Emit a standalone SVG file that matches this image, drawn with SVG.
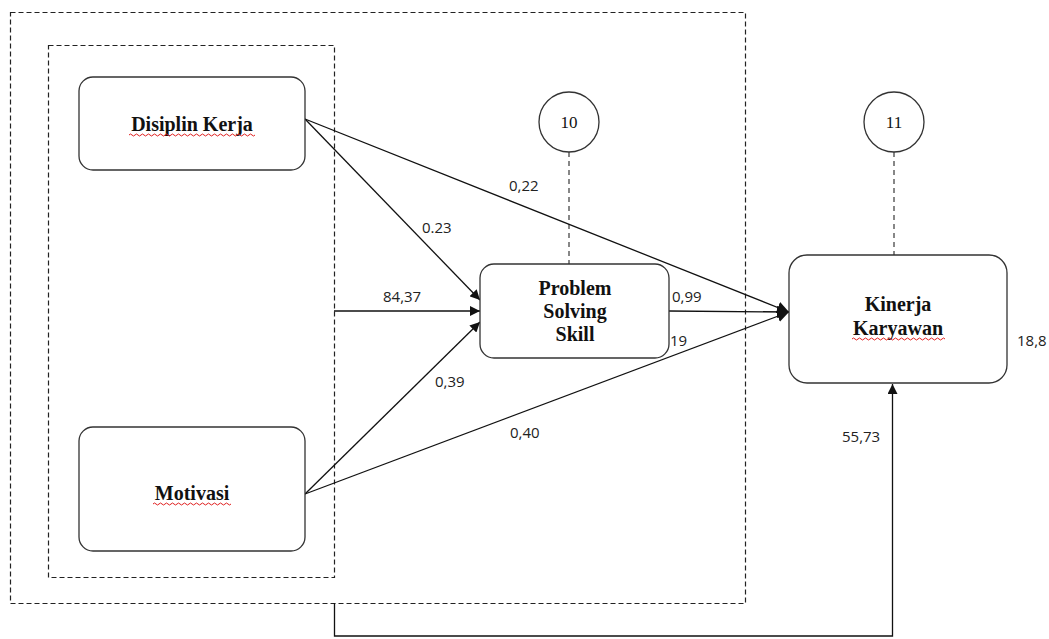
<svg xmlns="http://www.w3.org/2000/svg" width="1049" height="639" viewBox="0 0 1049 639">
<style>
.box{fill:#fff;stroke:#333;stroke-width:1.3}
.dash{fill:none;stroke:#222;stroke-width:1.2;stroke-dasharray:5,3}
.gdash{fill:none;stroke:#555;stroke-width:1.4;stroke-dasharray:5,4}
.line{fill:none;stroke:#111;stroke-width:1.3}
.lbl{font-family:"Liberation Serif","Times New Roman",serif;font-weight:bold;font-size:20px;fill:#111;text-anchor:middle}
.num{font-family:"Open Sans","Liberation Sans",sans-serif;font-size:15px;fill:#222}
.circ{font-family:"Liberation Serif","Times New Roman",serif;font-size:17px;fill:#111;text-anchor:middle}
.squig{fill:none;stroke:#e02020;stroke-width:1}
</style>
<defs>
<marker id="ah" viewBox="0 0 10 10" refX="10" refY="5" markerWidth="10" markerHeight="10" markerUnits="userSpaceOnUse" orient="auto">
<path d="M0,0 L10,5 L0,10 z" fill="#111"/>
</marker>
<marker id="ah2" viewBox="0 0 10 10" refX="10" refY="5" markerWidth="12" markerHeight="12" markerUnits="userSpaceOnUse" orient="auto">
<path d="M0,0 L10,5 L0,10 z" fill="#111"/>
</marker>
</defs>

<g id="frames">
<rect class="dash" x="10.5" y="12.5" width="735" height="591"/>
<rect class="dash" x="48.5" y="45.5" width="286" height="532"/>
</g>

<g id="connectors">
<line class="gdash" x1="569" y1="152" x2="569" y2="264"/>
<line class="gdash" x1="894" y1="152" x2="894" y2="255"/>
<line class="line" x1="305" y1="119" x2="480" y2="300" marker-end="url(#ah)"/>
<line class="line" x1="334" y1="311" x2="480" y2="311" marker-end="url(#ah)"/>
<line class="line" x1="305" y1="494" x2="480" y2="322" marker-end="url(#ah)"/>
<line class="line" x1="305" y1="119" x2="789" y2="312" marker-end="url(#ah2)"/>
<line class="line" x1="669" y1="311" x2="789" y2="312" marker-end="url(#ah2)"/>
<line class="line" x1="305" y1="494" x2="789" y2="312" marker-end="url(#ah2)"/>
<polyline class="line" points="334.5,603 334.5,636 892.5,636 892.5,384" marker-end="url(#ah)"/>
<text class="num" x="509" y="191">0,22</text>
<text class="num" x="422" y="233">0.23</text>
<text class="num" x="383" y="302">84,37</text>
<text class="num" x="435" y="387">0,39</text>
<text class="num" x="510" y="438">0,40</text>
<text class="num" x="672" y="302">0,99</text>
<text class="num" x="670" y="346">19</text>
<text class="num" x="1017" y="346">18,8</text>
<text class="num" x="842" y="442">55,73</text>
</g>

<g id="node-disiplin">
<rect class="box" x="79" y="77" width="226" height="93" rx="14"/>
<text class="lbl" x="192" y="131">Disiplin Kerja</text>
<path class="squig" d="M129,135 q1.5,-2 3,0 t3,0 t3,0 t3,0 t3,0 t3,0 t3,0 t3,0 t3,0 t3,0 t3,0 t3,0 t3,0 t3,0 t3,0 t3,0 t3,0 t3,0 t3,0 t3,0 t3,0 t3,0 t3,0 t3,0 t3,0 t3,0 t3,0 t3,0 t3,0 t3,0 t3,0 t3,0 t3,0 t3,0 t3,0 t3,0 t3,0 t3,0 t3,0 t3,0 t3,0 t3,0"/>
</g>

<g id="node-motivasi">
<rect class="box" x="79" y="427" width="226" height="124" rx="14"/>
<text class="lbl" x="192" y="500">Motivasi</text>
<path class="squig" d="M153,504 q1.5,-2 3,0 t3,0 t3,0 t3,0 t3,0 t3,0 t3,0 t3,0 t3,0 t3,0 t3,0 t3,0 t3,0 t3,0 t3,0 t3,0 t3,0 t3,0 t3,0 t3,0 t3,0 t3,0 t3,0 t3,0 t3,0 t3,0"/>
</g>

<g id="node-pss">
<rect class="box" x="480" y="264" width="189" height="94" rx="14"/>
<text class="lbl" x="575" y="295">Problem</text>
<text class="lbl" x="575" y="318">Solving</text>
<text class="lbl" x="575" y="341">Skill</text>
</g>

<g id="node-kinerja">
<rect class="box" x="789" y="255" width="218" height="128" rx="18"/>
<text class="lbl" x="898" y="311">Kinerja</text>
<text class="lbl" x="898" y="335">Karyawan</text>
<path class="squig" d="M852,339 q1.5,-2 3,0 t3,0 t3,0 t3,0 t3,0 t3,0 t3,0 t3,0 t3,0 t3,0 t3,0 t3,0 t3,0 t3,0 t3,0 t3,0 t3,0 t3,0 t3,0 t3,0 t3,0 t3,0 t3,0 t3,0 t3,0 t3,0 t3,0 t3,0 t3,0 t3,0 t3,0"/>
</g>

<g id="node-e10">
<circle class="box" cx="569" cy="122" r="30"/>
<text class="circ" x="569" y="128">10</text>
</g>

<g id="node-e11">
<circle class="box" cx="894" cy="122" r="30"/>
<text class="circ" x="894" y="128">11</text>
</g>
</svg>
